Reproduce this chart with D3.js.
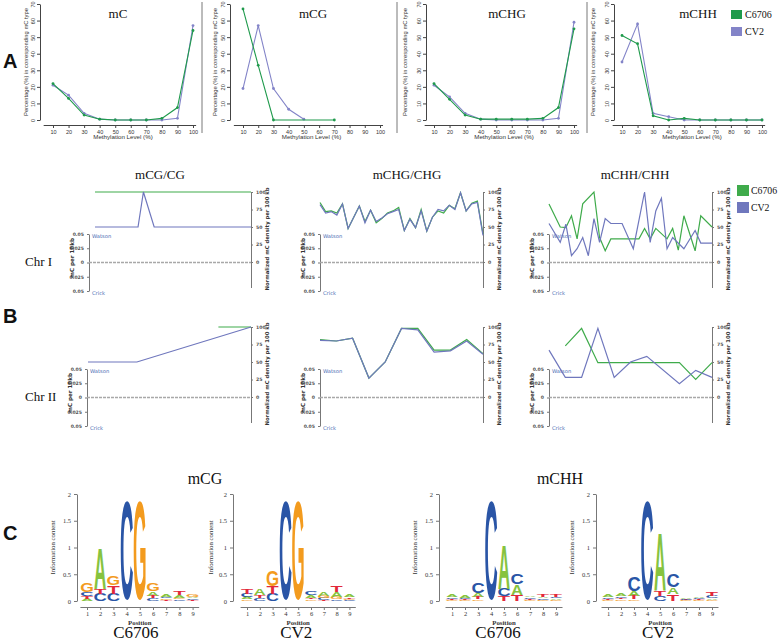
<!DOCTYPE html>
<html><head><meta charset="utf-8">
<script src="https://cdn.jsdelivr.net/npm/d3@7"></script>
<style>body{margin:0;background:#fff;} svg{display:block;}</style>
</head><body>
<script>
// ---------------- DATA ----------------
// Panel A : distribution of methylation levels
const methLevel = [10,20,30,40,50,60,70,80,90,100];
const yTicksA   = [0,10,20,30,40,50,60,70];
const mC_C6706   = [22,13,3,0.5,0,0,0,1,7.5,54];
const mC_CV2     = [21,15,4,0.5,0,0,0,0,1,57];
const mCG_C6706  = [67,33,0,null,null,null,0,null,null,null];
const mCG_CV2    = [19,57,19,6.5,0.5,null,null,null,null,null];
const mCHG_C6706 = [22,12.5,3,0.5,0.5,0.5,0.5,1,7.5,55];
const mCHG_CV2   = [21,14,4,0.5,0,0,0,0,1,59];
const mCHH_C6706 = [51,46,2.5,0,1,0,0,0,0,0];
const mCHH_CV2   = [35,58,4,2,0,0,0,0,0,0];
const strains    = ["C6706","CV2"];

// Panel B : normalized mC density per 100 kb bins
const chrIBins  = d3.range(30);
const chrIIBins = d3.range(11);
const densTicks = [0,25,50,75,100];
const strandTicks = [-0.05,-0.025,0,0.025,0.05];
const chrI_mCG_C6706 = [100,100,100,100,100,100,100,100,100,100,100,100,100,100,100,100,100,100,100,100,100,100,100,100,100,100,100,100,100,100];
const chrI_mCG_CV2   = [50,50,50,50,50,50,50,50,50,100,null,50,50,50,50,50,50,50,50,50,50,50,50,50,50,50,50,50,50,50];
const chrI_mCHG_C6706 = [85,72,73,70,83,48,64,80,58,74,56,62,70,73,78,45,62,49,75,44,64,73,70,81,76,99,73,84,87,40];
const chrI_mCHG_CV2   = [82,70,72,67,83,48,64,80,56,74,58,63,69,72,75,45,61,49,73,44,64,75,73,81,75,99,73,83,85,38];
const chrI_mCHH_C6706 = [83,null,50,49,66,33,83,null,100,35,16,33,33,33,33,33,33,48,33,48,null,33,48,17,66,null,16,66,null,50];
const chrI_mCHH_CV2   = [55,null,28,54,9,19,35,9,62,28,62,55,55,55,null,19,null,100,28,73,91,19,35,null,19,null,45,27,null,27];
const chrII_mCG_C6706 = [null,null,null,null,null,null,null,null,100,100,100];
const chrII_mCG_CV2   = [50,50,50,50,null,null,null,null,null,null,100];
const chrII_mCHG_C6706 = [82,80,84,27,50,98,98,67,67,82,62];
const chrII_mCHG_CV2   = [81,80,84,27,50,98,96,64,66,80,61];
const chrII_mCHH_C6706 = [null,73,98,49,49,49,49,49,49,25,49];
const chrII_mCHH_CV2   = [67,28,28,98,28,50,58,null,19,38,28];

// Panel C : sequence logos (letter, bits) bottom -> top, positions 1..9
const logoPositions = [1,2,3,4,5,6,7,8,9];
const bitTicks = [0,0.5,1,1.5,2];
const logo_mCG_C6706 = [
  [["A",0.04],["T",0.05],["C",0.07],["G",0.17]],
  [["C",0.14],["T",0.09],["A",0.77]],
  [["C",0.14],["T",0.15],["G",0.18]],
  [["C",1.92]],
  [["G",1.92]],
  [["C",0.05],["T",0.05],["A",0.08],["G",0.15]],
  [["T",0.02],["G",0.03],["C",0.03],["A",0.04]],
  [["C",0.03],["G",0.03],["A",0.05],["T",0.08]],
  [["T",0.02],["C",0.03],["A",0.03],["G",0.04]]
];
const logo_mCG_CV2 = [
  [["G",0.03],["A",0.04],["C",0.07],["T",0.1]],
  [["C",0.06],["T",0.05],["A",0.13]],
  [["C",0.14],["T",0.14],["G",0.31]],
  [["C",1.92]],
  [["G",1.92]],
  [["G",0.03],["T",0.03],["A",0.05],["C",0.07]],
  [["T",0.02],["C",0.04],["G",0.04],["A",0.08]],
  [["C",0.03],["G",0.04],["A",0.1],["T",0.12]],
  [["C",0.02],["G",0.02],["T",0.03],["A",0.05]]
];
const logo_mCHH_C6706 = [
  [["G",0.02],["T",0.02],["C",0.03],["A",0.04]],
  [["G",0.02],["T",0.02],["C",0.02],["A",0.04]],
  [["G",0.03],["T",0.04],["A",0.07],["C",0.19]],
  [["C",1.92]],
  [["T",0.09],["C",0.14],["A",0.85]],
  [["T",0.12],["A",0.19],["C",0.2]],
  [["G",0.02],["T",0.02],["C",0.03],["A",0.03]],
  [["G",0.02],["C",0.03],["A",0.03],["T",0.04]],
  [["G",0.02],["A",0.03],["C",0.03],["T",0.04]]
];
const logo_mCHH_CV2 = [
  [["G",0.02],["T",0.02],["C",0.03],["A",0.04]],
  [["G",0.03],["T",0.03],["C",0.03],["A",0.05]],
  [["G",0.03],["T",0.06],["A",0.09],["C",0.28]],
  [["C",1.92]],
  [["C",0.1],["T",0.1],["A",1.08]],
  [["T",0.13],["A",0.12],["C",0.26]],
  [["G",0.01],["T",0.01],["C",0.02],["A",0.02]],
  [["G",0.01],["T",0.02],["C",0.02],["A",0.03]],
  [["G",0.02],["A",0.03],["C",0.04],["T",0.07]]
];

// ---------------- STYLE ----------------
const GREEN = "#1f9a4c", PURPLE = "#8384c8";
const GREEN_B = "#3fab4b", PURPLE_B = "#6f77bd";
const BASE_COL = {A:"#86c33f", C:"#2a55a6", G:"#f39b1e", T:"#e2283a"};
const SERIF = "'Liberation Serif','Times New Roman',serif";
const SANS = "'Liberation Sans',Arial,sans-serif";
const SMALL = "'DejaVu Sans',Verdana,sans-serif";

const svg = d3.select("body").append("svg").attr("width",778).attr("height",642);

// panel letters
[["A",68],["B",323],["C",540]].forEach(([t,y])=>{
  svg.append("text").attr("x",3).attr("y",y).text(t)
    .attr("font-family",SANS).attr("font-weight","bold").attr("font-size",20).attr("fill","#111");
});

// ---------------- PANEL A ----------------
const subA = [
  {title:"mC",   s:[mC_C6706,mC_CV2],     axisX:40,  x10:53,  x100:193, ylab:28,  tx:118},
  {title:"mCG",  s:[mCG_C6706,mCG_CV2],   axisX:230, x10:243, x100:380, ylab:217, tx:313},
  {title:"mCHG", s:[mCHG_C6706,mCHG_CV2], axisX:426, x10:434, x100:574, ylab:407, tx:507},
  {title:"mCHH", s:[mCHH_C6706,mCHH_CV2], axisX:614, x10:622, x100:762, ylab:595, tx:698}
];
// thin frame lines separating the four sub-figures
[202,397,587].forEach(xv=>{
  svg.append("line").attr("x1",xv).attr("x2",xv).attr("y1",2).attr("y2",133).attr("stroke","#555").attr("stroke-width",0.8);
});
const yA = d3.scaleLinear().domain([0,70]).range([120,4]);
subA.forEach(p=>{
  const x = d3.scaleLinear().domain([10,100]).range([p.x10,p.x100]);
  const g = svg.append("g");
  const ya = g.append("g").attr("transform",`translate(${p.axisX},0)`)
    .call(d3.axisLeft(yA).tickValues(yTicksA).tickSize(3).tickSizeOuter(0));
  ya.selectAll("text").attr("x",0).attr("dy",0).attr("transform","translate(-5,0) rotate(-90)")
    .attr("text-anchor","middle").attr("font-size",5.5).attr("font-family",SANS).attr("fill","#333");
  ya.selectAll("line,path").attr("stroke","#444");
  const xa = g.append("g").attr("transform","translate(0,125)")
    .call(d3.axisBottom(x).tickValues(methLevel).tickSize(3).tickSizeOuter(0));
  xa.select(".domain").attr("d",`M${x(4)},0.5H${x(102)}`);
  xa.selectAll("text").attr("font-size",5.5).attr("font-family",SANS).attr("fill","#333").attr("y",5);
  xa.selectAll("line,path").attr("stroke","#444");
  g.append("text").attr("transform",`translate(${p.ylab},${yA(35)}) rotate(-90)`).attr("text-anchor","middle")
    .attr("font-family",SANS).attr("font-size",5.8).attr("fill","#333").text("Percentage (%) in corresponding mC type");
  g.append("text").attr("x",(p.x10+p.x100)/2).attr("y",139).attr("text-anchor","middle")
    .attr("font-family",SANS).attr("font-size",6.2).attr("fill","#333").text("Methylation Level (%)");
  g.append("text").attr("x",p.tx).attr("y",18).attr("text-anchor","middle")
    .attr("font-family",SERIF).attr("font-size",13).attr("fill","#111").text(p.title);
  const cols = [GREEN,PURPLE];
  [1,0].forEach(si=>{
    const pts = methLevel.map((k,i)=>({k,v:p.s[si][i]})).filter(d=>d.v!==null);
    g.append("path").datum(pts).attr("fill","none").attr("stroke",cols[si]).attr("stroke-width",1.1)
      .attr("d",d3.line().x(d=>x(d.k)).y(d=>yA(d.v)));
    g.selectAll(null).data(pts).enter().append("circle").attr("cx",d=>x(d.k)).attr("cy",d=>yA(d.v))
      .attr("r",1.4).attr("fill",cols[si]);
  });
});
// legend A
strains.forEach((s,i)=>{
  svg.append("rect").attr("x",731).attr("y",10+i*17).attr("width",11).attr("height",9).attr("fill",i?PURPLE:GREEN);
  svg.append("text").attr("x",745).attr("y",18+i*17).attr("font-family",SERIF).attr("font-size",10).attr("fill","#111").text(s);
});

// ---------------- PANEL B ----------------
const rowsB = [{label:"Chr I", off:0, bins:chrIBins}, {label:"Chr II", off:135, bins:chrIIBins}];
const colsB = [
  {title:"mCG/CG",  tx:160, L:[89,87],   X0:[95,88],   R:251, s:[[chrI_mCG_C6706,chrI_mCG_CV2],[chrII_mCG_C6706,chrII_mCG_CV2]]},
  {title:"mCHG/CHG",tx:407, L:[320,320], X0:[320,320], R:483, s:[[chrI_mCHG_C6706,chrI_mCHG_CV2],[chrII_mCHG_C6706,chrII_mCHG_CV2]]},
  {title:"mCHH/CHH",tx:635, L:[549,549], X0:[549,549], R:712, s:[[chrI_mCHH_C6706,chrI_mCHH_CV2],[chrII_mCHH_C6706,chrII_mCHH_CV2]]}
];
rowsB.forEach((row,ri)=>{
  const off=row.off;
  svg.append("text").attr("x",25).attr("y",266+off).attr("font-family",SERIF).attr("font-size",13).attr("fill","#111").text(row.label);
  const yD = d3.scaleLinear().domain([0,100]).range([262+off,192+off]);
  const yS = d3.scaleLinear().domain([-0.05,0.05]).range([291+off,234+off]);
  colsB.forEach((c,ci)=>{
    const g = svg.append("g");
    if(ri===0) g.append("text").attr("x",c.tx).attr("y",179).attr("text-anchor","middle")
      .attr("font-family",SERIF).attr("font-size",13).attr("fill","#111").text(c.title);
    const L=c.L[ri];
    const x = d3.scaleLinear().domain([0,row.bins.length-1]).range([c.X0[ri],c.R]);
    // strand axis
    const sa = g.append("g").attr("transform",`translate(${L},0)`)
      .call(d3.axisLeft(yS).tickValues(strandTicks).tickSize(2).tickSizeOuter(0).tickFormat(d=>d===0?"0":String(Math.abs(d))));
    sa.selectAll("text").attr("font-family",SMALL).attr("font-size",4.6).attr("font-weight","bold").attr("fill","#555");
    sa.selectAll("line,path").attr("stroke","#777");
    g.append("text").attr("transform",`translate(${L-15},${258+off}) rotate(-90)`).attr("text-anchor","middle")
      .attr("font-family",SMALL).attr("font-size",5.6).attr("font-weight","bold").attr("fill","#333").text("mC per 10kb");
    g.append("text").attr("x",L+3).attr("y",238+off).attr("font-family",SMALL).attr("font-size",5.2).attr("fill","#4a6cb3").text("Watson");
    g.append("text").attr("x",L+3).attr("y",295+off).attr("font-family",SMALL).attr("font-size",5.2).attr("fill","#4a6cb3").text("Crick");
    // zero line
    g.append("line").attr("x1",L).attr("x2",c.R).attr("y1",yS(0)).attr("y2",yS(0))
      .attr("stroke","#a8a8a8").attr("stroke-width",1.3).attr("stroke-dasharray","3,1");
    // right density axis
    const ra = g.append("g").attr("transform",`translate(${c.R},0)`)
      .call(d3.axisRight(yD).tickValues(densTicks).tickSize(2).tickSizeOuter(0));
    ra.select(".domain").attr("d",`M0.5,${yD(100)}V${288+off}`);
    ra.selectAll("text").attr("font-family",SMALL).attr("font-size",4.6).attr("font-weight","bold").attr("fill","#555");
    ra.selectAll("line,path").attr("stroke","#777");
    g.append("text").attr("transform",`translate(${c.R+18},${239+off}) rotate(-90)`).attr("text-anchor","middle")
      .attr("font-family",SMALL).attr("font-size",5.3).attr("font-weight","bold").attr("fill","#333").text("Normalized mC density per 100 kb");
    // lines
    [0,1].forEach(si=>{
      const pts = row.bins.map((b,i)=>({b,v:c.s[ri][si][i]})).filter(d=>d.v!==null);
      g.append("path").datum(pts).attr("fill","none").attr("stroke",si?PURPLE_B:GREEN_B).attr("stroke-width",1.2)
        .attr("d",d3.line().x(d=>x(d.b)).y(d=>yD(d.v)));
    });
  });
});
// legend B
strains.forEach((s,i)=>{
  svg.append("rect").attr("x",737).attr("y",185+i*17).attr("width",12).attr("height",11).attr("fill",i?PURPLE_B:GREEN_B);
  svg.append("text").attr("x",751).attr("y",194+i*17).attr("font-family",SERIF).attr("font-size",9.8).attr("fill","#111").text(s);
});

// ---------------- PANEL C ----------------
const GLYPH = {A:{w:0.70,h:0.716,b:0}, C:{w:0.64,h:0.74,b:0.013}, G:{w:0.68,h:0.74,b:0.013}, T:{w:0.58,h:0.716,b:0}};
const logos = [
  {data:logo_mCG_C6706,  axisX:77,  p1:87,  step:13.2, name:"C6706", yl:55,  nx:-4},
  {data:logo_mCG_CV2,    axisX:233, p1:247, step:12.8, name:"CV2",   yl:213, nx:-2},
  {data:logo_mCHH_C6706, axisX:439, p1:452, step:13.0, name:"C6706", yl:417, nx:-6},
  {data:logo_mCHH_CV2,   axisX:596, p1:608, step:13.0, name:"CV2",   yl:574, nx:-2}
];
const yBits = d3.scaleLinear().domain([0,2]).range([601,494]);
logos.forEach(l=>{
  const x = d3.scaleLinear().domain([1,9]).range([l.p1,l.p1+8*l.step]);
  const g = svg.append("g");
  const ya = g.append("g").attr("transform",`translate(${l.axisX},0)`)
    .call(d3.axisLeft(yBits).tickValues(bitTicks).tickSize(3).tickSizeOuter(0).tickFormat(d3.format("")));
  ya.selectAll("text").attr("font-family",SERIF).attr("font-size",6.5).attr("fill","#333");
  ya.selectAll("line,path").attr("stroke","#777");
  const xa = g.append("g").attr("transform","translate(0,607)")
    .call(d3.axisBottom(x).tickValues(logoPositions).tickSize(3).tickSizeOuter(0));
  xa.select(".domain").attr("d",`M${x(0.5)},0.5H${x(9.5)}`);
  xa.selectAll("text").attr("font-family",SERIF).attr("font-size",6.5).attr("fill","#333").attr("y",4);
  xa.selectAll("line,path").attr("stroke","#777");
  g.append("text").attr("transform",`translate(${l.yl},${yBits(1)}) rotate(-90)`).attr("text-anchor","middle")
    .attr("font-family",SERIF).attr("font-size",6.8).attr("fill","#333").text("Information content");
  g.append("text").attr("x",x(5)).attr("y",625).attr("text-anchor","middle")
    .attr("font-family",SERIF).attr("font-size",6.8).attr("font-weight","bold").attr("fill","#333").text("Position");
  g.append("text").attr("x",x(5)+l.nx).attr("y",638).attr("text-anchor","middle")
    .attr("font-family",SERIF).attr("font-size",17).attr("fill","#111").text(l.name);
  const lw = l.step*0.9;
  l.data.forEach((stack,i)=>{
    let acc=0;
    stack.forEach(([b,h])=>{
      const yb = yBits(acc), yt = yBits(acc+h); acc+=h;
      if(yb-yt<0.4) return;
      const gl = GLYPH[b], fs=100;
      const sy=(yb-yt)/(gl.h*fs), sx=lw/(gl.w*fs);
      g.append("text").text(b).attr("text-anchor","middle").attr("font-family",SANS).attr("font-weight","bold")
        .attr("font-size",fs).attr("fill",BASE_COL[b])
        .attr("transform",`translate(${x(logoPositions[i])},${yb-gl.b*fs*sy}) scale(${sx},${sy})`);
    });
  });
});
svg.append("text").attr("x",205).attr("y",484).attr("text-anchor","middle").attr("font-family",SERIF).attr("font-size",16).attr("fill","#111").text("mCG");
svg.append("text").attr("x",560).attr("y",484).attr("text-anchor","middle").attr("font-family",SERIF).attr("font-size",16).attr("fill","#111").text("mCHH");
</script></body></html>
